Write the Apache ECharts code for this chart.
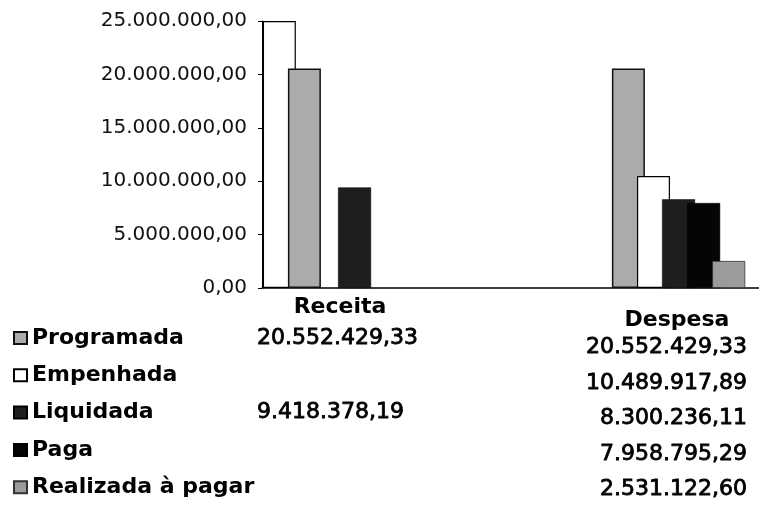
<!DOCTYPE html>
<html>
<head>
<meta charset="utf-8">
<script src="https://cdn.jsdelivr.net/npm/echarts@6/dist/echarts.min.js"></script>
<style>
  html, body { margin: 0; padding: 0; background: #fff; }
  #chart { width: 759px; height: 507px; }
</style>
</head>
<body>
<div id="chart"></div>
<script>
// categories (columns of the table under the chart)
const categories = ['Receita', 'Despesa'];
const categoryPos = [1, 2];

// series names, in the order of the legend
const seriesNames = ['Programada', 'Empenhada', 'Liquidada', 'Paga', 'Realizada à pagar'];

// values per series: [Receita, Despesa]
const programada = [20552429.33, 20552429.33];
const empenhada = [null, 10489917.89];
const liquidada = [9418378.19, 8300236.11];
const paga = [null, 7958795.29];
const realizada = [null, 2531122.60];

// tall unlabeled white bar next to the axis in the Receita group
const semRotulo = [25000000, null];

// y axis ticks
const yTicks = [0, 5000000, 10000000, 15000000, 20000000, 25000000];

const seriesValues = [programada, empenhada, liquidada, paga, realizada];

// brazilian number format 1.234.567,89
function fmtBR(v) {
    let parts = v.toFixed(2).split('.');
    let intPart = parts[0].replace(/\B(?=(\d{3})+(?!\d))/g, '.');
    return intPart + ',' + parts[1];
}

const styles = [
    { color: '#ababab', borderColor: '#111', borderWidth: 1.5 },
    { color: '#ffffff', borderColor: '#000', borderWidth: 1.2 },
    { color: '#1e1e1e', borderColor: '#000', borderWidth: 0.5 },
    { color: '#050505', borderColor: '#000', borderWidth: 0.5 },
    { color: '#9c9c9c', borderColor: '#333', borderWidth: 0.8 }
];

function toPoints(arr) {
    return arr.map((v, i) => [categoryPos[i], v]);
}

let series = [{
    name: '_semRotulo',
    type: 'bar',
    barWidth: 33,
    barGap: '-24%',
    itemStyle: { color: '#fff', borderColor: '#000', borderWidth: 1.2 },
    data: toPoints(semRotulo)
}];
seriesNames.forEach((name, i) => {
    series.push({
        name: name,
        type: 'bar',
        barWidth: 33,
        barGap: '-24%',
        itemStyle: styles[i],
        data: toPoints(seriesValues[i])
    });
});

// table text under the chart
const headerX = [340, 677];
const headerY = [307, 320];
const rowYReceita = [338, 375, 412, 449, 486];
const rowYDespesa = [347, 383, 418, 454, 489];

let graphics = [];
categories.forEach((c, ci) => {
    graphics.push({
        type: 'text',
        x: headerX[ci], y: headerY[ci],
        style: {
            text: c, fill: '#000',
            font: 'bold 22px "DejaVu Sans"',
            textAlign: 'center', textVerticalAlign: 'middle'
        }
    });
});
seriesValues.forEach((vals, si) => {
    vals.forEach((v, ci) => {
        if (v == null) return;
        graphics.push({
            type: 'text',
            x: ci === 0 ? 257 : 747,
            y: ci === 0 ? rowYReceita[si] : rowYDespesa[si],
            style: {
                text: fmtBR(v), fill: '#000',
                font: '22px "DejaVu Sans"',
                stroke: '#000', lineWidth: 0.8,
                textAlign: ci === 0 ? 'left' : 'right',
                textVerticalAlign: 'middle'
            }
        });
    });
});

let option = {
    backgroundColor: '#fff',
    animation: false,
    grid: { left: 262, top: 21, right: 0, bottom: 219, containLabel: false },
    xAxis: {
        type: 'value',
        min: 0.753,
        max: 2.287,
        axisLine: { show: true, lineStyle: { color: '#000', width: 1.5 } },
        axisTick: { show: false },
        axisLabel: { show: false },
        splitLine: { show: false }
    },
    yAxis: {
        type: 'value',
        min: 0,
        max: yTicks[yTicks.length - 1],
        interval: 5000000,
        axisLine: { show: true, lineStyle: { color: '#000', width: 1 } },
        axisTick: { show: true, length: 4, lineStyle: { color: '#000' } },
        splitLine: { show: false },
        axisLabel: {
            margin: 15,
            color: '#111',
            fontFamily: 'DejaVu Sans',
            fontSize: 20,
            formatter: v => fmtBR(v)
        }
    },
    legend: {
        data: seriesNames,
        orient: 'vertical',
        left: 13,
        top: 326,
        padding: 0,
        itemWidth: 13,
        itemHeight: 12,
        itemGap: 13.3,
        icon: 'rect',
        selectedMode: false,
        textStyle: {
            color: '#000',
            fontFamily: 'DejaVu Sans',
            fontWeight: 'bold',
            fontSize: 22,
            lineHeight: 24
        }
    },
    graphic: graphics,
    series: series
};

let chart = echarts.init(document.getElementById('chart'));
chart.setOption(option);
</script>
</body>
</html>
